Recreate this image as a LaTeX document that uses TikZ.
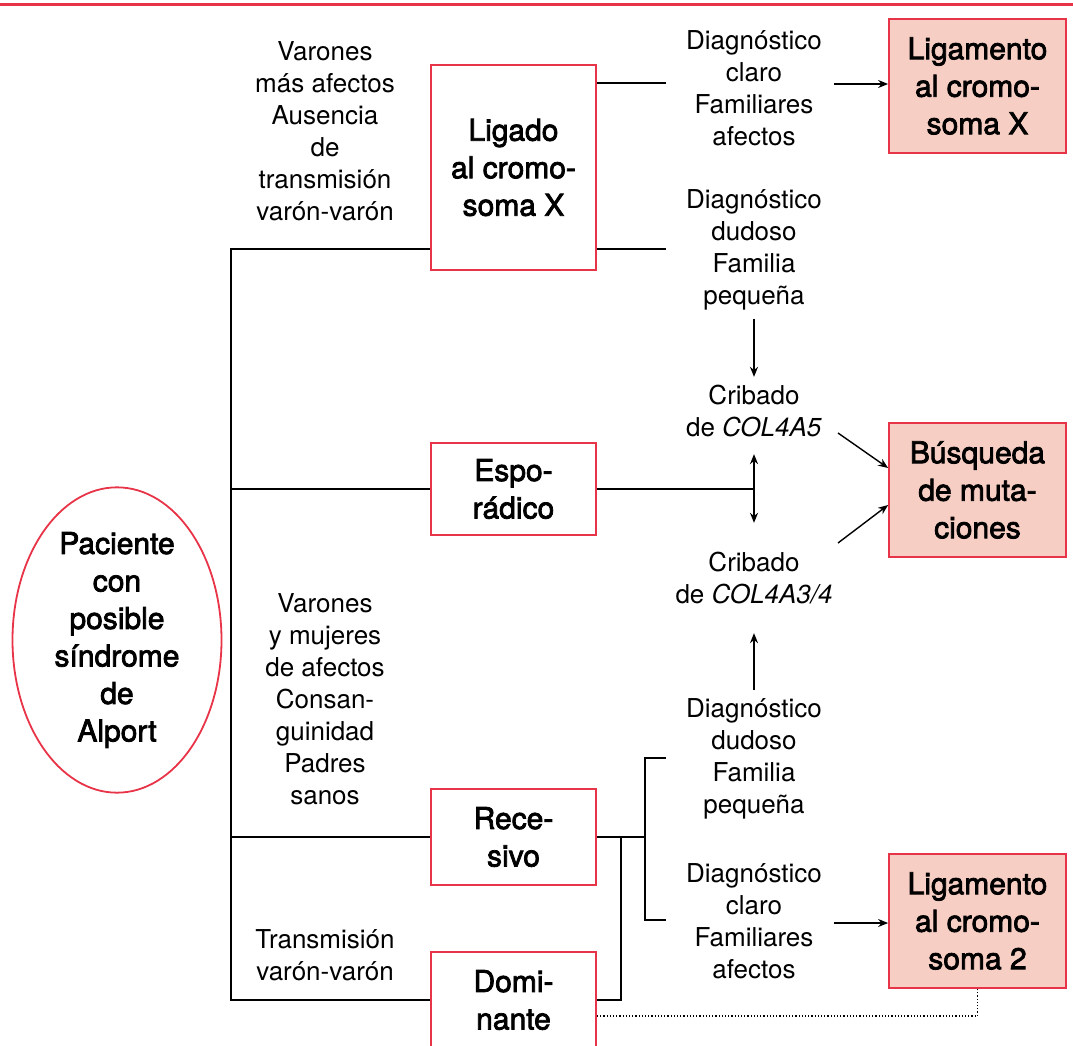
\documentclass[tikz,border=0pt]{standalone}
\usepackage{fontspec}
\setmainfont{TeX Gyre Heros}
\newfontfamily\medfont[FakeBold=2.5]{TeX Gyre Heros}
\usetikzlibrary{shapes.geometric,arrows.meta}

\definecolor{alportred}{RGB}{232,52,72}
\definecolor{alportpink}{RGB}{246,206,196}

\newcommand\notetxt{\fontsize{26}{32}\selectfont}
\newcommand\boxtxt{\medfont\fontsize{30}{37.5}\selectfont}

\tikzset{
  note/.style={align=center,font=\notetxt,inner xsep=20pt,inner ysep=8pt},
  typebox/.style={draw=alportred,line width=1.8pt,fill=white,align=center,
    font=\boxtxt,minimum width=165pt,inner sep=0pt},
  resultbox/.style={typebox,fill=alportpink,minimum width=177pt,minimum height=134pt},
  conn/.style={line width=1.4pt},
  arr/.style={conn,-{Stealth[length=10pt,width=8pt]}},
  dblarr/.style={conn,{Stealth[length=10pt,width=8pt]}-{Stealth[length=10pt,width=8pt]}}
}

\begin{document}
\begin{tikzpicture}[x=1pt,y=-1pt]
  \clip (0,0) rectangle (1073,1046);
  \fill[white] (0,0) rectangle (1073,1046);
  \draw[alportred,line width=3pt] (0,5) -- (1073,5);

  % paciente
  \node[ellipse,draw=alportred,line width=1.8pt,minimum width=209pt,minimum height=288pt,
    align=center,font=\boxtxt,inner sep=0pt] (paciente) at (117,640)
    {Paciente\\con\\posible\\síndrome\\de\\Alport};

  % tipos de herencia
  \node[typebox,minimum height=205pt] (ligado) at (513.5,167.5) {Ligado\\al cromo-\\soma X};
  \node[typebox,minimum height=92pt] (espo) at (513.5,489) {Espo-\\rádico};
  \node[typebox,minimum height=96pt] (recesivo) at (513.5,837) {Rece-\\sivo};
  \node[typebox,minimum height=96pt] (dominante) at (513.5,1000) {Domi-\\nante};

  \node[note] (rasgosX) at (325,131) {Varones\\más afectos\\Ausencia\\de\\transmisión\\varón-varón};
  \node[note] (rasgosR) at (325,699) {Varones\\y mujeres\\de afectos\\Consan-\\guinidad\\Padres\\sanos};
  \node[note] (rasgosD) at (325,955) {Transmisión\\varón-varón};

  % diagnostico
  \node[note] (claroX) at (754,88) {Diagnóstico\\claro\\Familiares\\afectos};
  \node[note] (dudosoX) at (754,250) {Diagnóstico\\dudoso\\Familia\\pequeña};
  \node[note] (cribA5) at (754,411) {Cribado\\de \textit{COL4A5}};
  \node[note] (cribA34) at (754,578) {Cribado\\de \textit{COL4A3/4}};
  \node[note] (dudoso2) at (754,759) {Diagnóstico\\dudoso\\Familia\\pequeña};
  \node[note] (claro2) at (754,921) {Diagnóstico\\claro\\Familiares\\afectos};

  % resultados
  \node[resultbox] (ligamX) at (977.5,86) {Ligamento\\al cromo-\\soma X};
  \node[resultbox] (busqueda) at (977.5,490) {Búsqueda\\de muta-\\ciones};
  \node[resultbox] (ligam2) at (977.5,921) {Ligamento\\al cromo-\\soma 2};

  % tronco
  \coordinate (jX) at (231,249);
  \coordinate (jD) at (231,1000);
  \draw[conn] (ligado.west |- jX) -| (jD) -- (dominante.west);
  \draw[conn] (jX |- espo.west) -- (espo.west);
  \draw[conn] (jX |- recesivo.west) -- (recesivo.west);

  % ligado al X
  \draw[conn] (ligado.east |- 0,83) -- (claroX.west |- 0,83);
  \draw[conn] (ligado.east |- jX) -- (dudosoX.west |- jX);
  \draw[arr,shorten <=-8pt] (claroX.east |- 0,84) -- (ligamX.west |- 0,84);
  \draw[arr] (dudosoX.south) -- (cribA5.north);

  % esporadico
  \coordinate (cruce) at (cribA5.south |- espo.east);
  \draw[conn] (espo.east) -- (cruce);
  \draw[dblarr,shorten <=9pt,shorten >=21pt] (cribA5.south) -- (cribA34.north);
  \coordinate (fromA5) at (838,433);
  \coordinate (fromA34) at (838,543);
  \draw[arr] (fromA5) -- ([yshift=22pt]busqueda.west);
  \draw[arr] (fromA34) -- ([yshift=-15pt]busqueda.west);

  % recesivo y dominante
  \coordinate (brk) at (645,837);
  \coordinate (jR) at (621,837);
  \draw[conn] (recesivo.east) -- (brk);
  \draw[conn] (dudoso2.west |- 0,758) -| (brk) |- (claro2.west |- 0,920);
  \draw[conn] (dominante.east) -| (jR);
  \draw[arr,shorten <=-8pt] (claro2.east |- 0,923) -- (ligam2.west |- 0,923);
  \draw[arr,shorten >=21pt] (dudoso2.north) -- (cribA34.south);
  \draw[dotted,line width=1.2pt] (dominante.east |- 0,1016) -| (ligam2.south);
\end{tikzpicture}
\end{document}
